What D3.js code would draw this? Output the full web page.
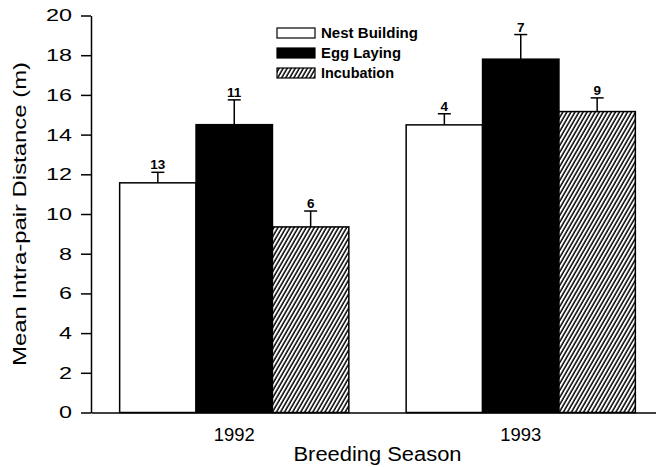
<!DOCTYPE html>
<head>
<meta charset="utf-8">
<style>
  body { margin: 0; background: #fff; }
  svg { font-family: 'Liberation Sans', Arial, sans-serif; }
  .axis path, .axis line { stroke: #000; stroke-width: 1.5px; }
  .axis text { fill: #000; }
</style>
</head>
<body>
<svg id="chart" width="656" height="467"></svg>
<script src="https://cdn.jsdelivr.net/npm/d3@7"></script>
<script>
  // data
  const seasons = ["1992", "1993"];
  const stages = ["Nest Building", "Egg Laying", "Incubation"];
  const nestMean = [11.57, 14.49];
  const eggMean = [14.5, 17.8];
  const incubMean = [9.35, 15.16];
  const nestSE = [0.53, 0.56];
  const eggSE = [1.25, 1.24];
  const incubSE = [0.8, 0.69];
  const nestN = [13, 4];
  const eggN = [11, 7];
  const incubN = [6, 9];
  const yTicks = [0, 2, 4, 6, 8, 10, 12, 14, 16, 18, 20];

  const means = [nestMean, eggMean, incubMean];
  const ses = [nestSE, eggSE, incubSE];
  const ns = [nestN, eggN, incubN];

  const svg = d3.select("#chart");
  const mLeft = 91, mRight = 664, mTop = 15.5, mBottom = 412.5;

  const defs = svg.append("defs");
  const pat = defs.append("pattern")
      .attr("id", "hatch")
      .attr("patternUnits", "userSpaceOnUse")
      .attr("width", 3.5).attr("height", 10)
      .attr("patternTransform", "rotate(30)");
  pat.append("rect").attr("width", 3.5).attr("height", 10).attr("fill", "#fff");
  pat.append("line").attr("x1", 1).attr("x2", 1).attr("y1", 0).attr("y2", 10)
      .attr("stroke", "#000").attr("stroke-width", 1.5);

  const fills = ["#fff", "#000", "url(#hatch)"];

  const x0 = d3.scaleBand().domain(seasons).range([mLeft, mRight])
      .paddingInner(0.2).paddingOuter(0.1);
  const x1 = d3.scaleBand().domain(stages).range([0, x0.bandwidth()]);
  const y = d3.scaleLinear().domain([0, 20]).range([mBottom, mTop]);

  // bars
  const rows = [];
  seasons.forEach((s, i) => stages.forEach((st, j) => {
    rows.push({ season: s, stage: st, j: j, v: means[j][i], se: ses[j][i], n: ns[j][i] });
  }));

  const g = svg.append("g");
  g.selectAll("rect.bar").data(rows).join("rect")
      .attr("class", "bar")
      .attr("x", d => x0(d.season) + x1(d.stage))
      .attr("y", d => y(d.v))
      .attr("width", x1.bandwidth())
      .attr("height", d => y(0) - y(d.v))
      .attr("fill", d => fills[d.j])
      .attr("stroke", "#000").attr("stroke-width", 1.5);

  // error bars
  const cx = d => x0(d.season) + x1(d.stage) + x1.bandwidth() / 2;
  g.selectAll("line.err").data(rows).join("line")
      .attr("class", "err")
      .attr("x1", cx).attr("x2", cx)
      .attr("y1", d => y(d.v)).attr("y2", d => y(d.v + d.se))
      .attr("stroke", "#000").attr("stroke-width", 1.5);
  g.selectAll("line.cap").data(rows).join("line")
      .attr("class", "cap")
      .attr("x1", d => cx(d) - 6.5).attr("x2", d => cx(d) + 6.5)
      .attr("y1", d => y(d.v + d.se)).attr("y2", d => y(d.v + d.se))
      .attr("stroke", "#000").attr("stroke-width", 1.5);
  g.selectAll("text.n").data(rows).join("text")
      .attr("class", "n")
      .attr("x", cx).attr("y", d => y(d.v + d.se) - 3)
      .attr("text-anchor", "middle")
      .attr("font-size", 13.5)
      .attr("font-weight", "bold")
      .text(d => d.n);

  // axes
  const yAxis = svg.append("g").attr("class", "axis")
      .attr("transform", `translate(${mLeft},0)`)
      .call(d3.axisLeft(y).tickValues(yTicks).tickSize(10).tickPadding(9).tickSizeOuter(0));
  yAxis.selectAll("text")
      .attr("font-size", 17)
      .attr("textLength", d => String(d).length * 13)
      .attr("lengthAdjust", "spacingAndGlyphs");

  const xAxis = svg.append("g").attr("class", "axis")
      .attr("transform", `translate(0,${mBottom})`)
      .call(d3.axisBottom(x0).tickSize(0).tickPadding(16).tickSizeOuter(0));
  xAxis.selectAll("text")
      .attr("font-size", 17.5)
      .attr("textLength", 41)
      .attr("lengthAdjust", "spacingAndGlyphs");

  // axis titles
  svg.append("text")
      .attr("transform", `translate(26,${(mTop + mBottom) / 2}) rotate(-90)`)
      .attr("text-anchor", "middle")
      .attr("font-size", 18.5)
      .attr("textLength", 304)
      .attr("lengthAdjust", "spacingAndGlyphs")
      .text("Mean Intra-pair Distance (m)");
  svg.append("text")
      .attr("x", (mLeft + mRight) / 2).attr("y", 460.5)
      .attr("text-anchor", "middle")
      .attr("font-size", 19.5)
      .attr("textLength", 168)
      .attr("lengthAdjust", "spacingAndGlyphs")
      .text("Breeding Season");

  // legend
  const legendWidths = [97, 80, 73];
  const leg = svg.append("g").attr("transform", "translate(277,0)");
  stages.forEach((st, j) => {
    const cy = 33 + j * 20;
    leg.append("rect")
        .attr("x", 0).attr("y", cy - 5).attr("width", 38).attr("height", 10)
        .attr("fill", fills[j]).attr("stroke", "#000").attr("stroke-width", 1.2);
    leg.append("text")
        .attr("x", 44).attr("y", cy + 5)
        .attr("font-size", 14)
        .attr("font-weight", "bold")
        .attr("textLength", legendWidths[j])
        .attr("lengthAdjust", "spacingAndGlyphs")
        .text(st);
  });
</script>
</body>
